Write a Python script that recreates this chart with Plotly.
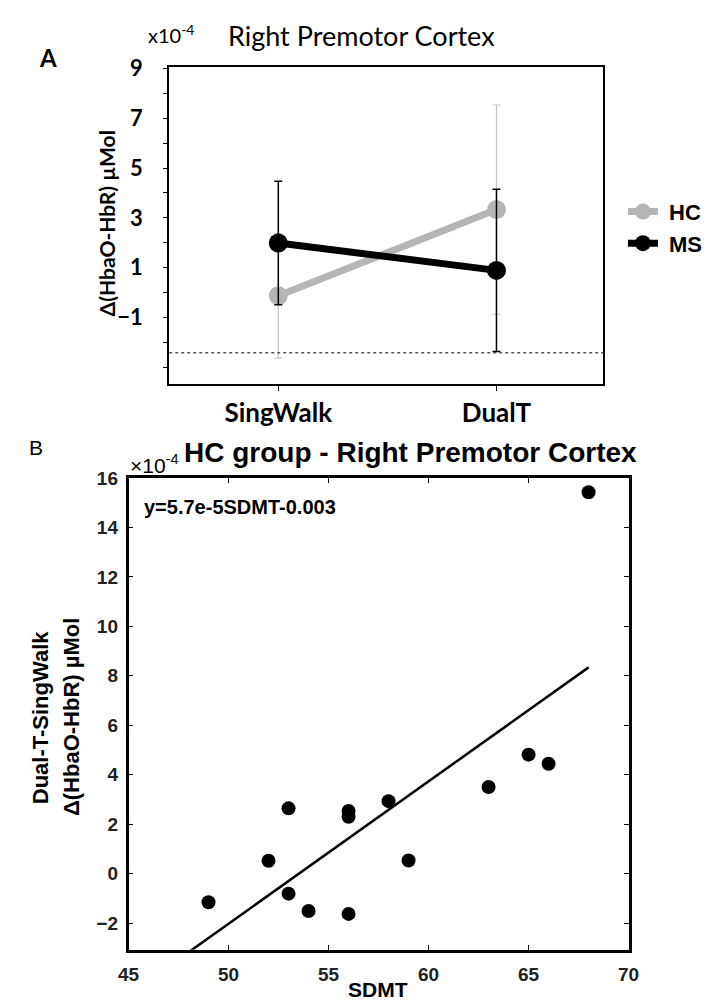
import plotly.graph_objects as go

# Panel A: group means (x10^-4 uMol) with error bars
conditions = ["SingWalk", "DualT"]
hc_mean = [-0.13, 3.33]
hc_err = [2.50, 4.20]
ms_mean = [1.99, 0.89]
ms_err = [2.48, 3.26]
ref_level = -2.42
a_ticks = [-1, 1, 3, 5, 7, 9]
a_minor = [-3, -2, 0, 2, 4, 6, 8]

# Panel B: HC group, SDMT vs Dual-T minus SingWalk (x10^-4 uMol)
sdmt = [49, 52, 53, 53, 54, 56, 56, 56, 58, 59, 63, 65, 66, 68]
delta = [-1.16, 0.52, 2.64, -0.81, -1.51, 2.53, 2.30, -1.63, 2.93, 0.53, 3.50, 4.81, 4.44, 15.42]
fit_x = [48.0, 68.0]
fit_y = [-3.18, 8.34]
b_xticks = [45, 50, 55, 60, 65, 70]
b_yticks = [-2, 0, 2, 4, 6, 8, 10, 12, 14, 16]

CAL = "Lato"
ARI = "Liberation Sans"

fig = go.Figure()

fig.add_trace(go.Scatter(
    x=conditions, y=hc_mean, name="\u00a0HC", mode="lines+markers",
    line=dict(color="#b5b5b5", width=7),
    marker=dict(color="#b5b5b5", size=19),
    error_y=dict(type="data", array=hc_err, color="#c4c4c4", thickness=1.2, width=4),
    xaxis="x", yaxis="y"))
fig.add_trace(go.Scatter(
    x=conditions, y=ms_mean, name="\u00a0MS", mode="lines+markers",
    line=dict(color="black", width=7),
    marker=dict(color="black", size=19),
    error_y=dict(type="data", array=ms_err, color="black", thickness=1.5, width=4),
    xaxis="x", yaxis="y"))

fig.add_trace(go.Scatter(
    x=fit_x, y=fit_y, mode="lines", showlegend=False,
    line=dict(color="black", width=2.5), xaxis="x2", yaxis="y2"))
fig.add_trace(go.Scatter(
    x=sdmt, y=delta, mode="markers", showlegend=False,
    marker=dict(color="black", size=14), xaxis="x2", yaxis="y2"))

fig.add_shape(type="line", xref="x domain", yref="y", x0=0, x1=1,
              y0=ref_level, y1=ref_level,
              line=dict(color="#555555", width=1.5, dash="dot"))

fig.update_layout(
    width=713, height=1000,
    margin=dict(l=0, r=0, t=0, b=0),
    paper_bgcolor="white", plot_bgcolor="white",
    showlegend=True,
    legend=dict(x=0.874, y=0.828, xanchor="left", yanchor="top",
                font=dict(family=ARI, size=22, color="black", weight="bold"),
                bgcolor="rgba(0,0,0,0)", tracegroupgap=0, itemwidth=30),
    xaxis=dict(domain=[0.2174, 0.8457], anchor="y", range=[-0.5, 1.49],
               showline=True, linecolor="black", linewidth=2, mirror=True,
               ticks="outside", ticklen=5, tickcolor="black",
               showgrid=False, zeroline=False,
               tickfont=dict(family=CAL, size=26, color="black", weight="bold")),
    yaxis=dict(domain=[0.632, 0.953], anchor="x", range=[-3.68, 9.04],
               showline=True, linecolor="black", linewidth=2, mirror=True,
               tickvals=a_ticks, ticks="outside", ticklen=4, tickcolor="black",
               ticklabelstandoff=16,
               minor=dict(tickvals=a_minor, ticks="outside", ticklen=4, tickcolor="black"),
               showgrid=False, zeroline=False,
               tickfont=dict(family=CAL, size=22, color="black", weight="bold")),
    xaxis2=dict(domain=[0.1585, 0.8822], anchor="y2", range=[45, 70],
                tickvals=b_xticks,
                showline=True, linecolor="black", linewidth=2.5, mirror="ticks",
                ticks="inside", ticklen=5, tickcolor="black",
                showgrid=False, zeroline=False, ticklabelstandoff=6,
                tickfont=dict(family=ARI, size=19, color="#222", weight="bold")),
    yaxis2=dict(domain=[0.059, 0.537], anchor="x2", range=[-3.08, 16],
                tickvals=b_yticks,
                showline=True, linecolor="black", linewidth=2.5, mirror="ticks",
                ticks="inside", ticklen=5, tickcolor="black",
                showgrid=False, zeroline=False, ticklabelstandoff=4,
                tickfont=dict(family=ARI, size=19, color="#222", weight="bold")),
)

def note(text, x, y, family, size, bold=False, angle=0, xanchor="center"):
    fig.add_annotation(text=text, x=x, y=y, xref="paper", yref="paper",
                       showarrow=False, textangle=angle, xanchor=xanchor, yanchor="middle",
                       font=dict(family=family, size=size, color="black",
                                 weight="bold" if bold else "normal"))

# panel A texts
note("A", 0.042, 0.963, CAL, 24, bold=True)
note("x10<sup>-4</sup>", 0.221, 0.987, CAL, 20)
note("Right Premotor Cortex", 0.495, 0.985, CAL, 27)
note("Δ(HbaO-HbR) µMol", 0.126, 0.795, CAL, 21, bold=True, angle=-90)

# panel B texts
note("B", 0.025, 0.568, ARI, 21)
note("×10<sup>-4</sup>", 0.196, 0.551, ARI, 21)
note("HC group - Right Premotor Cortex", 0.2356, 0.563, ARI, 28, bold=True, xanchor="left")
note("y=5.7e-5SDMT-0.003", 0.178, 0.508, ARI, 20, bold=True, xanchor="left")
note("Dual-T-SingWalk", 0.031, 0.295, ARI, 22, bold=True, angle=-90)
note("Δ(HbaO-HbR) µMol", 0.077, 0.295, ARI, 22, bold=True, angle=-90)
note("SDMT", 0.52, 0.019, ARI, 21, bold=True)

fig.write_html("out.html")
